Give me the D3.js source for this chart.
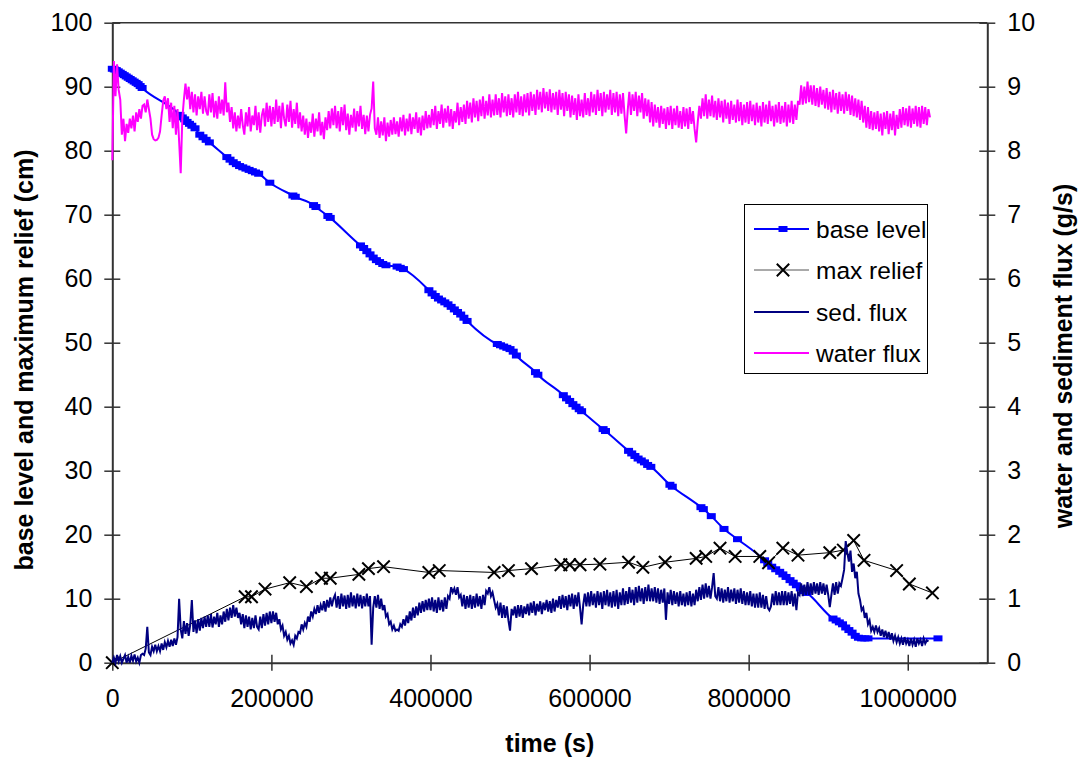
<!DOCTYPE html>
<html><head><meta charset="utf-8">
<script src="https://cdn.jsdelivr.net/npm/d3@7"></script>
<style>
html,body{margin:0;padding:0;background:#fff;}
text{font-family:"Liberation Sans",Arial,sans-serif;fill:#000;}
</style></head>
<body>
<svg id="chart" width="1080" height="761"></svg>
<script>
// ---------- data ----------
const xTicks = [0, 200000, 400000, 600000, 800000, 1000000];
const leftTicks = [0, 10, 20, 30, 40, 50, 60, 70, 80, 90, 100];
const rightTicks = [0, 1, 2, 3, 4, 5, 6, 7, 8, 9, 10];
const seriesNames = ["base level", "max relief", "sed. flux", "water flux"];

const baseLevelTime = [0,2500,5000,7500,10000,12500,15000,17500,20000,22500,25000,27500,30000,32500,35000,37500,
  85000,88000,91000,94000,97000,100000,104000,
  110000,114000,118000,122000,
  144000,148000,152000,156000,160000,164000,168000,172000,176000,180000,184000,
  198000,227000,230000,253000,256000,271000,274000,
  312000,316000,320000,324000,328000,332000,336000,340000,344000,
  358000,362000,366000,
  398000,402000,406000,410000,414000,418000,422000,426000,430000,434000,438000,442000,446000,
  484000,488000,492000,496000,500000,504000,508000,
  532000,535000,
  567000,571000,575000,579000,583000,587000,590000,
  617000,620000,
  649000,653000,657000,661000,665000,669000,673000,677000,
  701000,704000,740000,743000,753000,769000,786000,
  820000,824000,829000,834000,839000,843000,847000,852000,856000,860000,865000,869000,873000,
  906000,910000,914000,918000,922000,926000,930000,934000,938000,942000,946000,950000,1038000];
const baseLevelValue = [92.8,92.7,92.6,92.4,92.2,92.0,91.8,91.6,91.4,91.2,91.0,90.8,90.6,90.4,90.1,89.8,
  85.6,85.2,84.9,84.5,84.2,83.9,83.5,
  82.5,82.1,81.7,81.3,
  79.0,78.6,78.2,77.9,77.6,77.4,77.2,77.0,76.8,76.6,76.4,
  75.0,73.0,72.8,71.5,71.2,69.8,69.5,
  65.2,64.8,64.3,63.8,63.3,62.9,62.6,62.3,62.1,
  61.9,61.7,61.5,
  58.2,57.7,57.3,56.9,56.6,56.3,56.0,55.6,55.2,54.8,54.4,53.9,53.4,
  49.8,49.6,49.4,49.2,49.0,48.6,48.0,
  45.4,45.0,
  41.8,41.3,40.9,40.4,40.0,39.6,39.3,
  36.5,36.2,
  33.1,32.7,32.3,31.9,31.6,31.3,30.9,30.6,
  27.8,27.5,24.3,24.0,22.9,20.9,19.3,
  16.0,15.5,15.0,14.6,14.2,13.8,13.4,12.9,12.5,12.1,11.6,11.2,10.9,
  6.9,6.6,6.3,6.0,5.5,5.1,4.7,4.2,3.9,3.8,3.8,3.8,3.8];

const reliefTime = [0,167000,175000,192000,223000,244000,263000,274000,310000,322000,341000,398000,411000,480000,498000,527000,564000,575000,588000,613000,649000,667000,695000,734000,746000,764000,783000,814000,825000,843000,862000,902000,919000,932000,945000,986000,1002000,1031000];
const reliefValue = [0,10.3,10.3,11.5,12.5,11.9,13.2,13.2,13.8,14.7,15.0,14.1,14.4,14.1,14.4,14.7,15.3,15.3,15.3,15.4,15.7,14.9,15.7,16.3,16.6,17.9,16.6,16.6,15.6,17.9,16.8,17.2,17.6,19.1,16.0,14.4,12.3,10.9];

// sediment flux (g/s), sampled every 2000 s from t = 0 (one row = 40000 s)
const sedStart = 0, sedStep = 2000;
const sedValues = [
  0.0,0.08,0.0,0.12,0.02,0.1,0.0,0.06,0.12,0.0,0.09,0.0,0.11,0.03,0.13,0.02,0.08,0.0,0.12,0.14,
  0.12,0.22,0.56,0.16,0.12,0.25,0.18,0.28,0.18,0.26,0.18,0.3,0.2,0.32,0.24,0.34,0.25,0.36,0.26,0.38,
  0.28,0.4,1.0,0.52,0.38,0.65,0.45,0.62,0.42,0.6,0.98,0.48,0.66,0.46,0.68,0.5,0.7,0.54,0.72,0.56,
  0.74,0.56,0.76,0.55,0.72,0.6,0.78,0.56,0.74,0.6,0.8,0.64,0.84,0.66,0.86,0.7,0.9,0.72,0.86,0.7,
  0.78,0.6,0.76,0.54,0.74,0.56,0.72,0.52,0.7,0.54,0.74,0.56,0.52,0.72,0.54,0.76,0.58,0.78,0.6,0.8,
  0.62,0.8,0.64,0.78,0.6,0.68,0.52,0.58,0.42,0.48,0.36,0.42,0.3,0.35,0.28,0.42,0.38,0.48,0.46,0.6,
  0.52,0.62,0.56,0.72,0.64,0.8,0.72,0.84,0.76,0.9,0.78,0.9,0.82,0.96,0.8,0.98,0.86,1.02,0.88,1.0,
  1.06,0.86,1.04,0.84,1.08,0.88,1.05,0.84,1.06,0.86,1.1,0.88,1.05,0.85,1.08,0.88,1.06,0.85,1.04,0.88,
  1.08,0.88,1.04,0.28,0.86,1.04,0.86,1.06,0.84,1.0,0.82,0.9,0.72,0.76,0.6,0.64,0.52,0.58,0.5,0.52,
  0.5,0.6,0.56,0.68,0.58,0.74,0.62,0.8,0.66,0.86,0.7,0.88,0.74,0.94,0.78,0.96,0.8,0.98,0.82,1.0,
  0.82,1.02,0.8,0.98,0.78,1.02,0.82,0.98,0.8,1.02,0.84,1.04,1.0,1.18,1.1,1.16,1.06,1.18,1.02,1.06,
  0.88,1.06,0.84,1.04,0.86,1.06,0.84,1.04,0.86,1.08,0.88,1.04,0.84,1.06,0.9,1.12,1.08,1.18,1.04,1.1,
  0.98,0.86,0.92,0.74,0.94,0.7,0.9,0.7,0.88,0.66,0.5,0.84,0.74,0.88,0.7,0.9,0.72,0.9,0.7,0.88,
  0.76,0.92,0.74,0.94,0.78,0.96,0.74,0.92,0.8,0.96,0.76,0.94,0.82,0.98,0.8,0.96,0.78,1.0,0.8,0.98,
  0.86,1.04,0.84,1.06,0.86,1.04,0.82,1.06,0.88,1.08,0.84,1.06,0.88,1.1,0.86,0.6,0.9,1.08,0.88,1.1,
  0.88,1.12,0.9,1.08,0.86,1.12,0.9,1.1,0.84,1.12,0.9,1.14,0.88,1.1,0.86,1.12,0.88,1.14,0.84,1.1,
  0.9,1.16,0.9,1.12,0.92,1.18,0.94,1.14,0.9,1.18,0.94,1.2,0.96,1.16,0.92,1.18,0.96,1.22,0.96,1.16,
  0.96,1.18,0.94,1.16,0.92,1.14,0.94,1.16,0.67,1.1,0.92,1.14,0.9,1.12,0.92,1.1,0.88,1.12,0.9,1.08,
  0.88,1.1,0.9,1.12,0.88,1.08,0.9,1.14,0.96,1.18,0.98,1.22,1.0,1.24,1.02,1.2,1.0,1.18,1.4,1.04,
  1.0,1.18,0.96,1.16,0.94,1.14,0.96,1.18,0.94,1.14,0.96,1.16,0.92,1.14,0.94,1.16,0.92,1.12,0.9,1.1,
  0.9,1.12,0.88,1.08,0.86,1.08,0.86,1.1,0.86,1.06,0.84,1.04,0.86,0.82,0.88,1.08,0.9,1.12,0.9,1.1,
  0.9,1.12,0.9,1.12,0.9,1.1,0.92,1.12,0.88,1.08,0.82,1.1,1.06,1.24,1.04,1.22,1.06,1.26,1.06,1.24,
  1.06,1.26,1.08,1.24,1.06,1.26,1.08,1.24,1.06,1.22,1.06,0.87,1.06,1.24,1.06,1.26,1.08,1.24,1.2,1.32,
  1.45,1.9,1.72,1.58,1.75,1.42,1.55,1.32,1.42,1.08,0.98,0.82,0.86,0.7,0.78,0.6,0.66,0.5,0.56,0.48,
  0.58,0.48,0.54,0.42,0.52,0.4,0.5,0.38,0.48,0.36,0.46,0.34,0.42,0.32,0.4,0.3,0.38,0.28,0.4,0.3,
  0.36,0.26,0.38,0.28,0.36,0.25,0.38,0.3,0.36,0.26,0.38,0.3,0.35,0.33];

// water flux (g/s), sampled every 2000 s from t = 0 (one row = 40000 s)
const waterStart = 0, waterStep = 2000;
const waterValues = [
  7.85,9.4,8.85,9.35,8.95,8.8,8.25,8.5,8.15,8.42,8.28,8.5,8.35,8.55,8.3,8.6,8.45,8.65,8.5,8.7,
  8.72,8.6,8.8,8.65,8.5,8.25,8.18,8.16,8.17,8.2,8.3,8.55,8.78,8.85,8.65,8.82,8.45,8.75,8.35,8.7,
  8.25,8.65,8.15,7.65,8.5,8.8,9.05,8.8,9.0,8.65,8.92,8.6,8.88,8.55,8.85,8.65,8.92,8.58,8.85,8.62,
  8.55,8.88,8.6,8.9,8.52,8.78,8.5,8.85,8.58,8.8,8.55,9.07,8.6,8.75,8.45,8.68,8.35,8.6,8.3,8.55,
  8.35,8.65,8.4,8.25,8.6,8.38,8.68,8.3,8.55,8.4,8.7,8.32,8.6,8.28,8.55,8.66,8.38,8.75,8.45,8.7,
  8.38,8.68,8.42,8.8,8.45,8.7,8.35,8.75,8.5,8.38,8.72,8.45,8.78,8.36,8.65,8.42,8.75,8.35,8.6,8.3,
  8.55,8.25,8.5,8.2,8.45,8.28,8.58,8.22,8.5,8.3,8.6,8.24,8.45,8.18,8.52,8.32,8.62,8.35,8.66,8.4,
  8.7,8.35,8.62,8.3,8.68,8.4,8.72,8.32,8.58,8.25,8.56,8.36,8.66,8.3,8.62,8.38,8.7,8.34,8.56,8.26,
  8.55,8.3,8.56,8.66,9.08,8.35,8.25,8.52,8.2,8.46,8.24,8.52,8.15,8.44,8.22,8.48,8.25,8.52,8.26,8.46,
  8.22,8.52,8.3,8.56,8.24,8.5,8.3,8.58,8.26,8.52,8.34,8.6,8.28,8.52,8.24,8.55,8.32,8.62,8.35,8.56,
  8.36,8.65,8.4,8.7,8.34,8.62,8.42,8.72,8.36,8.66,8.44,8.7,8.38,8.65,8.34,8.62,8.44,8.75,8.4,8.68,
  8.45,8.72,8.42,8.78,8.5,8.75,8.44,8.82,8.52,8.78,8.46,8.8,8.54,8.85,8.5,8.78,8.55,8.88,8.52,8.8,
  8.55,8.88,8.56,8.82,8.52,8.9,8.6,8.85,8.54,8.88,8.56,8.82,8.52,8.88,8.6,8.92,8.56,8.85,8.54,8.88,
  8.6,8.9,8.55,8.92,8.62,8.88,8.56,8.95,8.64,8.92,8.6,8.98,8.66,8.92,8.62,8.96,8.6,8.9,8.64,8.92,
  8.56,8.95,8.64,8.9,8.54,8.92,8.62,8.88,8.52,8.86,8.56,8.82,8.48,8.88,8.54,8.8,8.52,8.9,8.56,8.82,
  8.54,8.92,8.6,8.88,8.56,8.95,8.62,8.9,8.54,8.92,8.6,8.88,8.64,8.95,8.56,8.9,8.6,8.92,8.54,8.88,
  8.58,8.9,8.55,8.27,8.64,8.92,8.56,8.88,8.62,8.92,8.54,8.86,8.6,8.9,8.5,8.82,8.54,8.8,8.44,8.76,
  8.38,8.72,8.44,8.68,8.36,8.7,8.42,8.66,8.34,8.68,8.4,8.7,8.34,8.66,8.4,8.7,8.36,8.62,8.34,8.68,
  8.38,8.66,8.34,8.68,8.42,8.62,8.34,8.13,8.45,8.7,8.5,8.82,8.54,8.88,8.5,8.8,8.54,8.86,8.52,8.78,
  8.48,8.82,8.52,8.78,8.44,8.8,8.5,8.75,8.42,8.78,8.48,8.72,8.44,8.8,8.46,8.76,8.4,8.72,8.44,8.76,
  8.42,8.78,8.46,8.72,8.4,8.75,8.44,8.7,8.38,8.76,8.44,8.72,8.42,8.78,8.46,8.7,8.38,8.72,8.44,8.76,
  8.42,8.7,8.44,8.76,8.38,8.72,8.44,8.78,8.42,8.72,8.48,8.78,8.72,9.02,8.72,9.0,8.74,9.08,8.76,9.02,
  8.72,9.02,8.7,8.98,8.68,9.0,8.72,8.95,8.66,8.98,8.64,8.92,8.6,8.95,8.64,8.9,8.58,8.92,8.62,8.88,
  8.58,8.92,8.62,8.88,8.56,8.86,8.54,8.82,8.52,8.8,8.48,8.78,8.44,8.7,8.36,8.68,8.34,8.62,8.32,8.6,
  8.34,8.62,8.3,8.58,8.24,8.6,8.34,8.62,8.26,8.58,8.32,8.62,8.24,8.56,8.34,8.65,8.36,8.68,8.4,8.66,
  8.38,8.7,8.36,8.66,8.42,8.7,8.38,8.68,8.36,8.7,8.42,8.68,8.4,8.65,8.52];

// ---------- drawing ----------
const svg = d3.select("#chart");
const L = 112.3, R = 987.3, T = 22.7, B = 662.7;
const x = d3.scaleLinear().domain([0, 1100000]).range([L, R]);
const yL = d3.scaleLinear().domain([0, 100]).range([B, T]);
const yR = d3.scaleLinear().domain([0, 10]).range([B, T]);

const axisColor = "#333";
const tickFont = 25;

// plot border (top line)
svg.append("line").attr("x1", L).attr("x2", R).attr("y1", T).attr("y2", T)
  .attr("stroke", axisColor).attr("stroke-width", 1.5);

// axes
const gx = svg.append("g").attr("transform", `translate(0,${B})`)
  .call(d3.axisBottom(x).tickValues(xTicks).tickFormat(d3.format("d")).tickSizeInner(0).tickSizeOuter(0).tickPadding(27));
const gl = svg.append("g").attr("transform", `translate(${L},0)`)
  .call(d3.axisLeft(yL).tickValues(leftTicks).tickFormat(d3.format("d")).tickSizeInner(0).tickSizeOuter(0).tickPadding(20));
const gr = svg.append("g").attr("transform", `translate(${R},0)`)
  .call(d3.axisRight(yR).tickValues(rightTicks).tickFormat(d3.format("d")).tickSizeInner(0).tickSizeOuter(0).tickPadding(20));

[gx, gl, gr].forEach(g => {
  g.select(".domain").attr("stroke", axisColor).attr("stroke-width", 2);
  g.selectAll("text").attr("font-size", tickFont).attr("fill", "#000")
    .attr("font-family", '"Liberation Sans", Arial, sans-serif');
});
// crossing ticks
gx.selectAll(".tick").append("line").attr("y1", -8).attr("y2", 8).attr("stroke", axisColor).attr("stroke-width", 1.5);
gl.selectAll(".tick").append("line").attr("x1", -8).attr("x2", 8).attr("stroke", axisColor).attr("stroke-width", 1.5);
gr.selectAll(".tick").append("line").attr("x1", -8).attr("x2", 8).attr("stroke", axisColor).attr("stroke-width", 1.5);

// axis titles
svg.append("text").attr("x", (L + R) / 2).attr("y", 752).attr("text-anchor", "middle")
  .attr("font-size", 25).attr("font-weight", "bold").text("time (s)");
svg.append("text").attr("transform", "translate(33,360) rotate(-90)").attr("text-anchor", "middle")
  .attr("font-size", 25).attr("font-weight", "bold").text("base level and maximum relief (cm)");
svg.append("text").attr("transform", "translate(1072,356) rotate(-90)").attr("text-anchor", "middle")
  .attr("font-size", 25).attr("font-weight", "bold").text("water and sediment flux (g/s)");

// series
const base = baseLevelTime.map((t, i) => ({t, v: baseLevelValue[i]}));
const relief = reliefTime.map((t, i) => ({t, v: reliefValue[i]}));
const sed = sedValues.map((v, i) => ({t: sedStart + i * sedStep, v}));
const water = waterValues.map((v, i) => ({t: waterStart + i * waterStep, v}));

const plot = svg.append("g");

// base level
plot.append("path").datum(base)
  .attr("d", d3.line().x(d => x(d.t)).y(d => yL(d.v)).curve(d3.curveMonotoneX))
  .attr("fill", "none").attr("stroke", "#0000FF").attr("stroke-width", 2);
plot.selectAll("rect.bl").data(base).enter().append("rect").attr("class", "bl")
  .attr("x", d => x(d.t) - 4.5).attr("y", d => yL(d.v) - 3).attr("width", 9).attr("height", 6)
  .attr("fill", "#0000FF");

// max relief
plot.append("path").datum(relief)
  .attr("d", d3.line().x(d => x(d.t)).y(d => yL(d.v)))
  .attr("fill", "none").attr("stroke", "#000").attr("stroke-width", 1);
const xm = 6.2;
plot.selectAll("path.xm").data(relief).enter().append("path").attr("class", "xm")
  .attr("transform", d => `translate(${x(d.t)},${yL(d.v)})`)
  .attr("d", `M${-xm},${-xm}L${xm},${xm}M${-xm},${xm}L${xm},${-xm}`)
  .attr("stroke", "#000").attr("stroke-width", 2).attr("fill", "none");

// sediment flux
plot.append("path").datum(sed)
  .attr("d", d3.line().x(d => x(d.t)).y(d => yR(d.v)))
  .attr("fill", "none").attr("stroke", "#000080").attr("stroke-width", 2);

// water flux
plot.append("path").datum(water)
  .attr("d", d3.line().x(d => x(d.t)).y(d => yR(d.v)))
  .attr("fill", "none").attr("stroke", "#FF00FF").attr("stroke-width", 2);

// legend
const lg = svg.append("g");
lg.append("rect").attr("x", 744.5).attr("y", 204.5).attr("width", 183).attr("height", 169)
  .attr("fill", "#fff").attr("stroke", "#000").attr("stroke-width", 1);
const rowsY = [229, 270, 312, 353];
const lx1 = 754, lx2 = 809, lmid = 783;
const colors = ["#0000FF", "#000", "#000080", "#FF00FF"];
seriesNames.forEach((name, i) => {
  const y = rowsY[i];
  lg.append("line").attr("x1", lx1).attr("x2", lx2).attr("y1", y).attr("y2", y)
    .attr("stroke", i === 1 ? "#555" : colors[i]).attr("stroke-width", i === 1 ? 1 : 2);
  if (i === 0) lg.append("rect").attr("x", lmid - 4.5).attr("y", y - 3).attr("width", 9).attr("height", 6).attr("fill", colors[0]);
  if (i === 1) lg.append("path").attr("d", `M${lmid - xm},${y - xm}L${lmid + xm},${y + xm}M${lmid - xm},${y + xm}L${lmid + xm},${y - xm}`)
    .attr("stroke", "#000").attr("stroke-width", 2);
  lg.append("text").attr("x", 816).attr("y", y + 8.5).attr("font-size", 24.5).text(name);
});
</script>
</body></html>
